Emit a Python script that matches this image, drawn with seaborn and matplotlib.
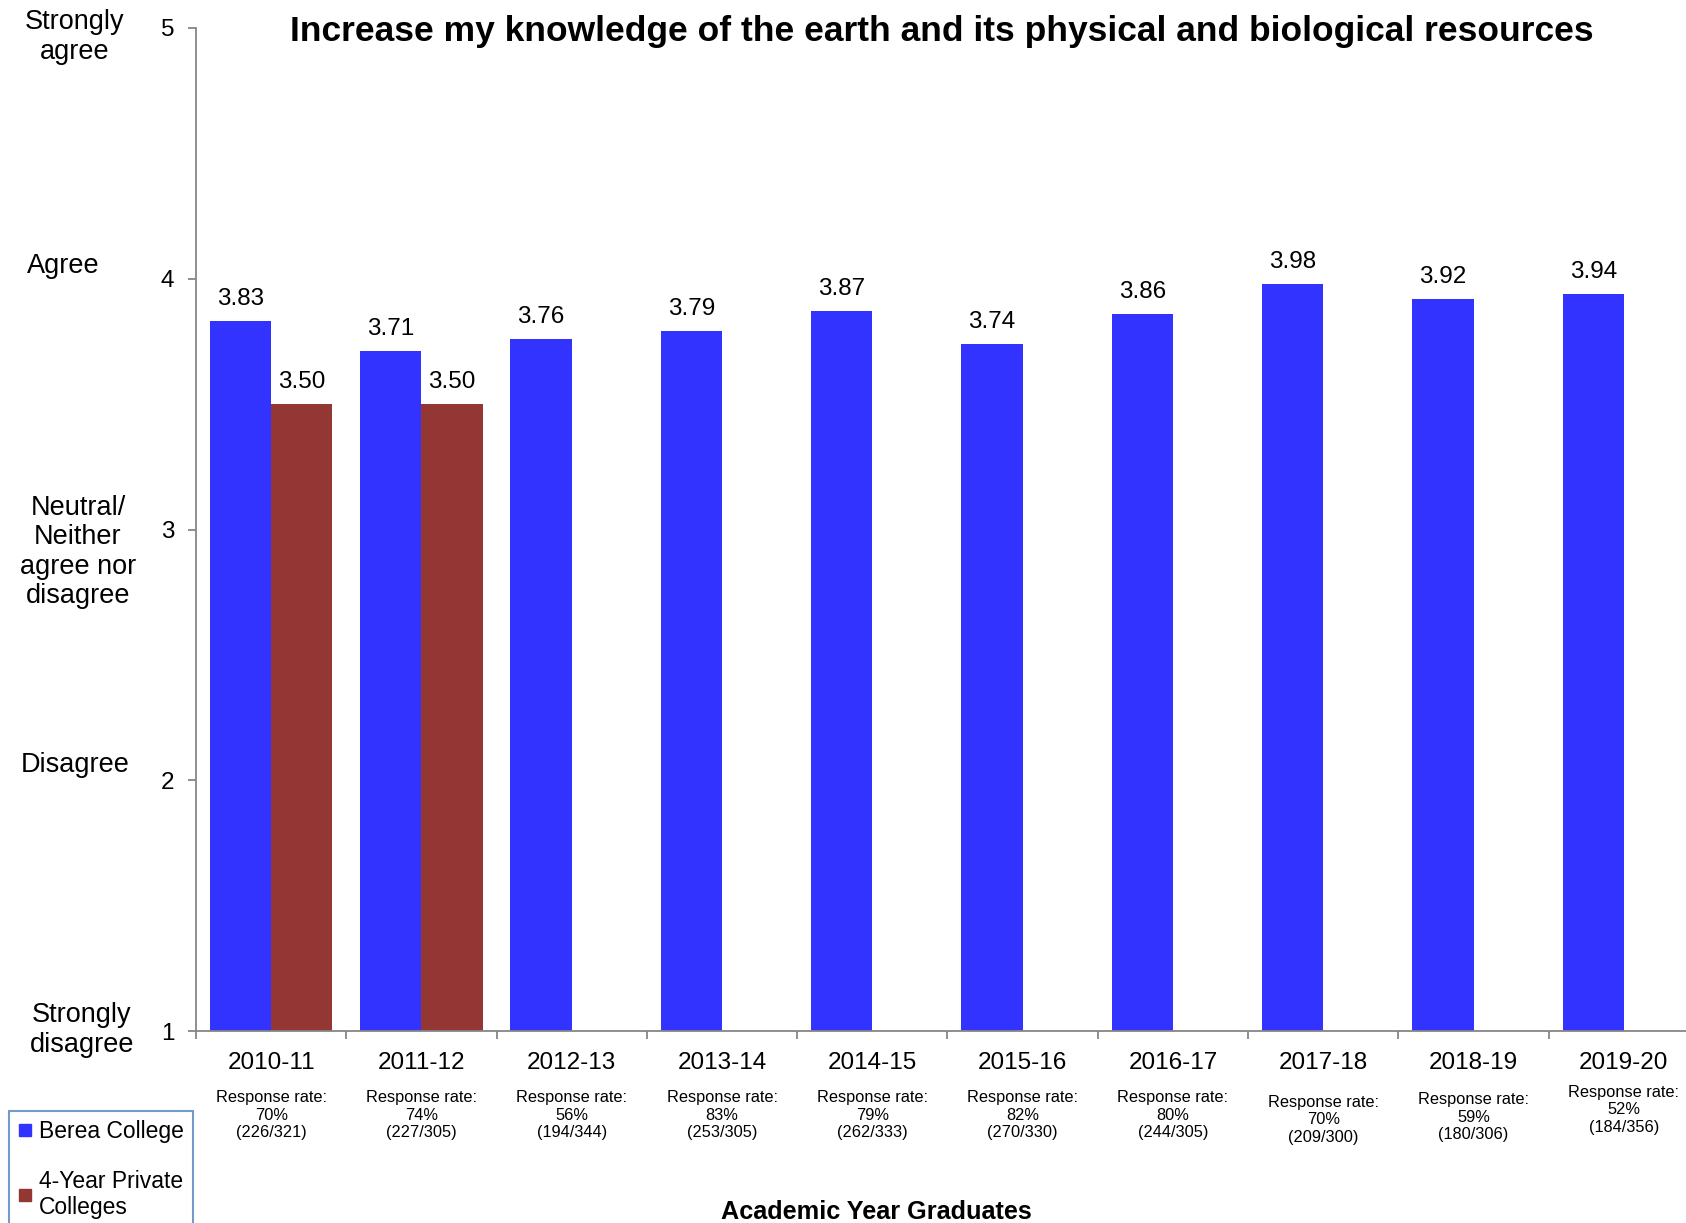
import numpy as np
import pandas as pd
import seaborn as sns
import matplotlib.pyplot as plt
import matplotlib.transforms as mtransforms
from matplotlib.lines import Line2D

# data
years = ['2010-11', '2011-12', '2012-13', '2013-14', '2014-15',
         '2015-16', '2016-17', '2017-18', '2018-19', '2019-20']
berea = [3.83, 3.71, 3.76, 3.79, 3.87, 3.74, 3.86, 3.98, 3.92, 3.94]
private = [3.50, 3.50, np.nan, np.nan, np.nan,
           np.nan, np.nan, np.nan, np.nan, np.nan]
resp_pct = [70, 74, 56, 83, 79, 82, 80, 70, 59, 52]
resp_n = [226, 227, 194, 253, 262, 270, 244, 209, 180, 184]
resp_total = [321, 305, 344, 305, 333, 330, 305, 300, 306, 356]
resp_nudge = [0, 0, 0, 0, 0, 0, 0, 5, 2, -5]  # small vertical shifts in px
scale_labels = ['Strongly\ndisagree', 'Disagree',
                'Neutral/\nNeither\nagree nor\ndisagree',
                'Agree', 'Strongly\nagree']

groups = ['Berea College', '4-Year Private\nColleges']
colors = {'Berea College': '#3333FF', '4-Year Private\nColleges': '#943634'}

df = pd.DataFrame({'year': years * 2,
                   'group': [groups[0]] * len(years) + [groups[1]] * len(years),
                   'score': berea + private})

sns.set_style('white')
plt.rcParams['font.family'] = ['Liberation Sans', 'DejaVu Sans']
plt.rcParams['text.color'] = 'black'
plt.rcParams['xtick.labelcolor'] = 'black'
plt.rcParams['ytick.labelcolor'] = 'black'

W, H = 1686, 1223
fig = plt.figure(figsize=(W / 100, H / 100), dpi=100)
# axes box in pixels: left 196, right 1699, top 28, bottom 1031
ax = fig.add_axes([196 / W, 1 - 1031 / H, (1699 - 196) / W, (1031 - 28) / H])

sns.barplot(data=df, x='year', y='score', hue='group', order=years,
            hue_order=groups, palette=colors, width=0.816, dodge=True,
            saturation=1, ax=ax, legend=False, edgecolor='none')

for cont, vals in zip(ax.containers, [berea, private]):
    labs = ['' if np.isnan(v) else '%.2f' % v for v in vals]
    if len(cont) != len(labs):
        labs = ['%.2f' % v for v in vals if not np.isnan(v)]
    ax.bar_label(cont, labels=labs, padding=8, fontsize=17.5, color='black')

ax.set_ylim(1, 5)
ax.set_xlim(-0.5, len(years) - 0.5)
ax.set_yticks([1, 2, 3, 4, 5])
ax.set_xticks(range(len(years)))
ax.set_xticklabels(years, fontsize=17.5)
ax.set_xticks(np.arange(-0.5, len(years)), minor=True)
ax.tick_params(axis='x', which='major', length=0, pad=15)
ax.tick_params(axis='x', which='minor', length=5.5, width=1.3,
               color='#868686', bottom=True)
ax.tick_params(axis='y', length=5.5, width=1.3, color='#868686',
               pad=10, labelsize=17.5, left=True)
sns.despine(ax=ax, top=True, right=True)
for s in ['left', 'bottom']:
    ax.spines[s].set_color('#868686')
    ax.spines[s].set_linewidth(1.3)
ax.set_xlabel('')
ax.set_ylabel('')

# response rates under each year
trans = mtransforms.blended_transform_factory(ax.transData, fig.transFigure)
for i in range(len(years)):
    txt = 'Response rate:\n%d%%\n(%d/%d)' % (resp_pct[i], resp_n[i], resp_total[i])
    ax.text(i, 1 - (1115 + resp_nudge[i]) / H, txt, transform=trans,
            ha='center', va='center', fontsize=11.8, linespacing=1.2)

# scale descriptions on the left
label_pos = [(82, 1030), (75, 765), (78, 552), (63, 266), (75, 37)]
for lab, (px, py) in zip(scale_labels, label_pos):
    fig.text(px / W, 1 - py / H, lab, ha='center', va='center',
             fontsize=19.5, linespacing=1.17)

fig.text(942 / W, 1 - 31 / H,
         'Increase my knowledge of the earth and its physical and biological resources',
         ha='center', va='center', fontsize=25.5, fontweight='bold')
fig.text(876 / W, 1 - 1212 / H, 'Academic Year Graduates',
         ha='center', va='center', fontsize=18.2, fontweight='bold')

handles = [Line2D([], [], marker='s', linestyle='none', markersize=9,
                  color=colors[g]) for g in groups]
leg = fig.legend(handles, groups, loc='upper left',
                 bbox_to_anchor=(9 / W, 1 - 1111 / H), borderaxespad=0,
                 fontsize=16.5, frameon=True, fancybox=False,
                 handlelength=0.6, handletextpad=0.3, labelspacing=1.15,
                 borderpad=0.4, edgecolor='#4F81BD')
leg.get_frame().set_linewidth(1.5)

fig.savefig('out.png', dpi=100)
